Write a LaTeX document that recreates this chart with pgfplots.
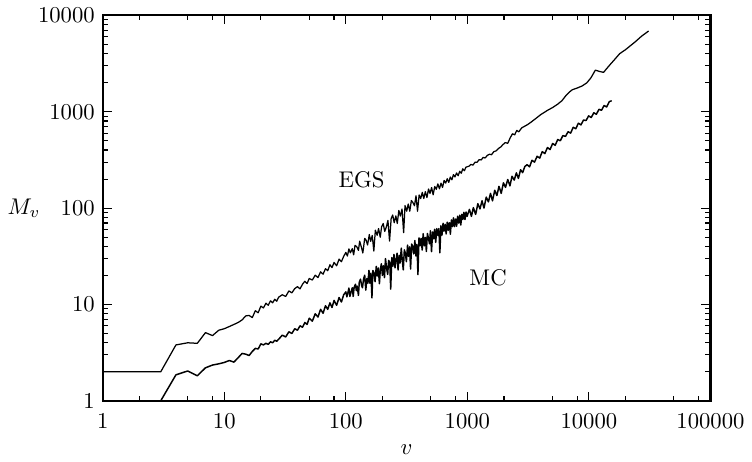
\documentclass[border=0pt]{standalone}
\usepackage{pgfplots}
\pgfplotsset{compat=1.18}

% EGS curve
\pgfplotstableread{
x y
1 2
3 2
4 3.8
5 4.0
6 3.95
7 5.1
8 4.75
9 5.4
10 5.6
11 5.9
12 6.2
13 6.5
14 6.9
15 7.6
16 7.7
17 7.3
18 8.6
19 8.2
20 9.6
21 9.2
22 10.3
23 9.8
24 10.9
25 10.4
26 11.3
27 10.8
28 11.9
30 12.6
32 12.1
34 13.8
36 13.2
38 14.6
40 15.3
42 14.5
44 16.2
46 17.4
48 16.5
50 18.6
53 17.9
56 20.1
59 19.0
62 21.8
65 20.6
68 23.5
71 22.4
74 25.8
77 24.1
80 27.3
84 25.2
88 29.5
92 27.8
96 31.5
100 34.7
103 31.8
106 37.7
109 34.3
113 37.9
116 32.7
119 41.0
123 39.8
127 36.4
130 45.3
134 39.7
138 34.2
143 48.4
147 46.4
151 41.4
156 53.2
160 45.1
165 52.0
170 35.8
175 59.0
181 52.3
186 61.3
192 49.9
197 64.0
203 69.1
209 57.2
216 64.3
222 74.5
229 45.4
236 77.8
243 84.7
250 70.5
258 83.0
265 69.3
273 94.3
281 82.6
290 97.9
299 55.6
307 106.2
317 92.9
326 110.2
336 92.8
346 119.7
356 114.6
367 105.7
378 134.2
389 92.9
401 136.7
413 125.5
426 145.6
438 125.7
451 148.1
465 128.5
479 157.7
493 141.8
508 163.3
523 137.3
539 167.5
555 156.6
572 178.4
589 158.6
607 181.3
625 163.9
644 193.7
663 181.6
683 201.5
703 184.9
724 209.7
746 196.3
768 222.4
791 210.6
815 231.4
840 216.7
865 240.8
891 230.0
917 255.4
945 244.2
973 265.7
1030 272
1070 284
1110 279
1160 300
1200 298
1250 318
1300 316
1350 336
1400 331
1460 352
1520 362
1580 358
1650 385
1720 392
1800 415
1880 430
1960 455
2050 478
2150 470
2250 535
2350 590
2450 575
2550 640
2650 618
2800 680
2950 705
3100 730
3300 770
3500 815
3700 860
4000 930
4300 985
4600 1040
5000 1100
5500 1190
6000 1300
6500 1480
7000 1620
7300 1690
8000 1760
8800 1850
9600 1990
10400 2250
11300 2700
12200 2620
13200 2560
14000 2800
15000 3100
16500 3550
17900 4000
20000 4400
22000 4850
24000 5300
27000 6050
31000 6880
}\egs

% MC curve
\pgfplotstableread{
x y
3 1
4 1.86
5 2.04
6 1.82
7 2.2
8 2.35
9 2.42
10 2.5
11 2.62
12 2.52
13 2.8
14 3.1
15 3.05
16 2.95
17 3.25
18 3.5
19 3.45
20 3.9
21 3.8
22 3.95
23 3.85
24 4.1
25 4.0
26 4.25
27 4.15
28 4.35
30 4.8
32 4.6
34 5.2
36 5.0
38 5.6
40 5.4
42 6.0
44 5.8
46 6.5
48 6.2
50 7.2
53 6.7
56 8.0
59 7.4
62 8.9
65 8.1
68 9.7
71 8.9
74 10.4
77 9.3
80 11.0
84 9.8
88 11.8
92 10.6
96 12.6
100 13.5
102 12.0
104 13.2
106 14.8
108 12.1
110 13.2
113 14.9
115 12.1
117 15.0
120 16.2
122 13.9
124 15.5
127 12.4
129 17.0
132 18.3
135 15.7
137 14.9
140 18.4
143 20.1
146 14.1
149 18.6
152 16.6
155 22.6
158 16.6
161 21.1
164 11.7
167 22.5
171 21.2
174 17.2
178 24.8
181 19.7
185 23.9
189 16.4
192 22.6
196 26.4
200 20.0
204 25.2
208 19.0
212 29.9
217 23.3
221 20.5
225 28.6
230 27.3
234 14.4
239 30.6
244 24.9
249 33.0
254 24.0
259 29.2
264 34.0
269 22.8
275 32.4
280 26.9
286 38.4
291 29.3
297 22.8
303 36.8
309 34.2
315 27.8
322 41.3
328 31.6
335 39.6
341 23.3
348 42.4
355 39.9
362 33.4
370 46.0
377 31.9
385 42.1
392 20.4
400 49.1
408 40.6
416 48.5
425 36.7
433 54.2
442 40.6
451 49.6
460 35.5
469 54.5
478 49.1
488 42.6
497 58.2
507 35.4
518 56.5
528 48.0
538 60.3
549 44.1
560 61.2
571 52.1
583 61.4
594 34.3
606 65.6
618 52.4
631 69.5
643 57.7
656 67.9
669 53.9
683 71.3
696 58.7
710 70.4
725 53.5
739 75.4
754 64.2
769 79.3
784 64.2
800 76.9
816 64.9
832 82.3
849 69.9
866 84.3
883 66.7
901 86.2
919 76.1
937 90.5
956 76.1
975 91.0
995 82.1
1040 97
1080 82
1120 101
1170 86
1220 111
1270 98
1320 119
1370 100
1430 130
1490 116
1550 142
1610 119
1680 153
1750 135
1820 168
1900 142
1980 183
2060 164
2150 198
2240 170
2330 214
2430 195
2530 232
2630 203
2740 250
2850 233
2970 270
3100 282
3250 268
3400 313
3570 300
3750 345
3940 330
4130 385
4340 368
4560 425
4790 405
5030 468
5280 448
5540 515
5820 500
6110 565
6420 555
6740 620
7080 600
7430 690
7800 665
8190 760
8600 730
9030 820
9480 810
9950 905
10450 870
10970 975
11520 940
12100 1060
12700 1035
13340 1160
14000 1120
14700 1270
15400 1300
}\mc

\begin{document}
\begin{tikzpicture}
\begin{axis}[
    scale only axis,
    width=268pt, height=170pt,
    xmode=log, ymode=log,
    xmin=1, xmax=100000, ymin=1, ymax=10000,
    xtick={1,10,100,1000,10000,100000},
    xticklabels={1,10,100,1000,10000,100000},
    ytick={1,10,100,1000,10000},
    yticklabels={1,10,100,1000,10000},
    minor xtick={2,5,8,20,50,80,200,500,800,2000,5000,8000,20000,50000,80000},
    minor ytick={2,3,4,5,6,7,8,9,20,30,40,50,60,70,80,90,200,300,400,500,600,700,800,900,2000,3000,4000,5000,6000,7000,8000,9000},
    tick align=inside,
    major tick length=4pt,
    minor tick length=2.2pt,
    axis line style={line width=1pt},
    every tick/.style={black, line width=0.5pt},
    xlabel={$v$},
    ylabel={$M_v$},
    every axis y label/.style={at={(rel axis cs:0,0.5)}, anchor=east, xshift=-24pt},
    xticklabel style={yshift=-2pt},
]
\addplot[black, line width=0.55pt, line join=round, mark=none] table {\egs};
\addplot[black, line width=0.65pt, line join=round, mark=none] table {\mc};
\node at (axis cs:135,195) {EGS};
\node at (axis cs:1480,19) {MC};
\end{axis}
\end{tikzpicture}
\end{document}
